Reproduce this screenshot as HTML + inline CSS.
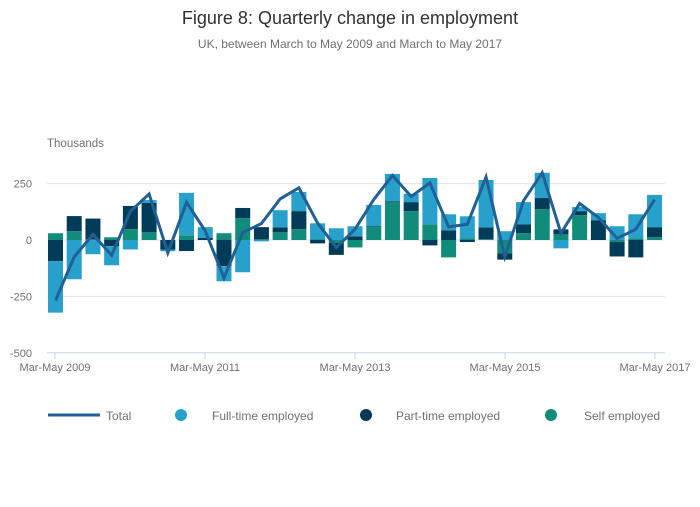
<!DOCTYPE html>
<html><head><meta charset="utf-8"><style>
body{margin:0;background:#fff;font-family:"Liberation Sans",sans-serif;}
svg text{font-family:"Liberation Sans",sans-serif;}
</style></head><body>
<svg id="chart" width="700" height="502" viewBox="0 0 700 502">
<text x="350" y="24" text-anchor="middle" font-size="18" fill="#323132">Figure 8: Quarterly change in employment</text>
<text x="350" y="48" text-anchor="middle" font-size="12" fill="#707070">UK, between March to May 2009 and March to May 2017</text>
<text x="47" y="147" font-size="11.5" fill="#707070">Thousands</text>
<g id="grid"></g>
<g id="bars"></g>
<g id="line"></g>
<g id="xaxis"></g>
<g>
<line x1="48" y1="415" x2="100" y2="415" stroke="#206095" stroke-width="3"/>
<text x="106" y="420" font-size="12" fill="#707070">Total</text>
<circle cx="181" cy="415" r="6" fill="#27a0cc"/>
<text x="212" y="420" font-size="12" fill="#707070">Full-time employed</text>
<circle cx="366" cy="415" r="6" fill="#003c57"/>
<text x="396" y="420" font-size="12" fill="#707070">Part-time employed</text>
<circle cx="551" cy="415" r="6" fill="#118c7b"/>
<text x="584" y="420" font-size="12" fill="#707070">Self employed</text>
</g>
</svg>
<script>
const selfEmp  = [30,39,3,12,48,34,0,21,0,30,97,3,34,48,4,-12,-33,57,167,128,70,-77,7,4,-60,30,137,25,110,0,-9,7,12];
const partTime = [-94,67,92,-27,103,131,-42,-49,9,-116,45,54,22,80,-15,-54,16,4,4,40,-24,43,-9,52,-27,40,49,22,18,88,-64,-77,45];
const fullTime = [-228,-174,-63,-85,-42,12,-8,188,48,-67,-143,-6,76,85,70,52,45,94,122,37,205,71,98,210,39,98,112,-37,18,31,61,107,143];
const total    = [-268,-75,25,-68,127,204,-57,167,40,-168,33,73,182,231,75,-34,48,179,286,193,253,58,70,279,-75,174,298,30,162,100,7,48,179];
const yTicks = [250,0,-250,-500];
const xTickLabels = ["Mar-May 2009","Mar-May 2011","Mar-May 2013","Mar-May 2015","Mar-May 2017"];
const xTickIndex = [0,8,16,24,32];

const NS="http://www.w3.org/2000/svg";
function y(v){return 240 - v*56.4/250;}
function x(i){return 55.5 + i*18.72;}
function mk(tag,attrs,parent){const e=document.createElementNS(NS,tag);for(const k in attrs)e.setAttribute(k,attrs[k]);parent.appendChild(e);return e;}

const grid=document.getElementById('grid');
yTicks.forEach(t=>{
  const isAxis = t===-500;
  const gl=mk('line',{x1:47,x2:665,y1:y(t),y2:y(t),stroke:isAxis?'#c7d5e6':'#e2e2e2','stroke-width':1},grid);
  
  
  const tx=mk('text',{x:32,y:y(t)+4,'text-anchor':'end','font-size':11,fill:'#707070'},grid);
  tx.textContent=t;
  
  
});

const bars=document.getElementById('bars');
const series=[[selfEmp,'#118c7b','self'],[partTime,'#003c57','part-time'],[fullTime,'#27a0cc','full-time']];
for(let i=0;i<total.length;i++){
  let pos=0,neg=0;
  series.forEach(([arr,col,nm])=>{
    const v=arr[i]; if(!v) return;
    let y0,y1;
    if(v>0){y0=pos;pos+=v;y1=pos;}else{y0=neg;neg+=v;y1=neg;}
    const top=Math.min(y(y0),y(y1)), h=Math.abs(y(y0)-y(y1));
    const r=mk('rect',{x:x(i)-7.5,y:top,width:15,height:h,fill:col},bars);
    
    
  });
}

const lg=document.getElementById('line');
const pts=total.map((v,i)=>x(i)+','+y(v)).join(' ');
const pl=mk('polyline',{points:pts,fill:'none',stroke:'#206095','stroke-width':3,'stroke-linejoin':'miter'},lg);



const xa=document.getElementById('xaxis');
xTickIndex.forEach((idx,k)=>{
  const px=55+idx*18.75;
  const tk=mk('line',{x1:px,x2:px,y1:353,y2:359,stroke:'#c7d5e6'},xa);
  
  
  const t=mk('text',{x:px,y:371,'text-anchor':'middle','font-size':11,fill:'#707070'},xa);
  t.textContent=xTickLabels[k];
  
  
});
</script>
</body></html>
